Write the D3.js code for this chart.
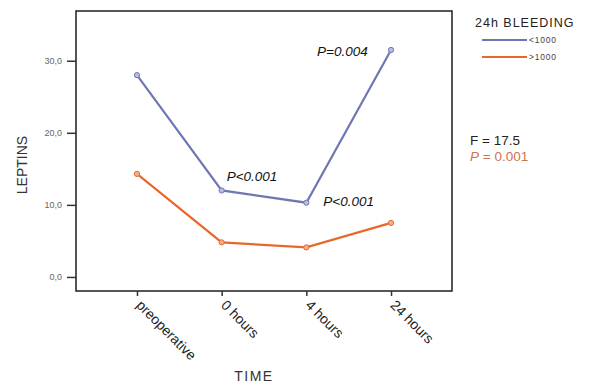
<!DOCTYPE html>
<html><head><meta charset="utf-8">
<script src="https://cdn.jsdelivr.net/npm/d3@7"></script>
<style>body{margin:0;background:#fff}svg{display:block}</style>
</head><body>
<svg id="c" width="600" height="384"></svg>
<script>
const categories = ["preoperative", "0 hours", "4 hours", "24 hours"];
const lowBleeding = [28.0, 12.0, 10.3, 31.5];   // <1000
const highBleeding = [14.3, 4.8, 4.1, 7.5];     // >1000
const yTicks = [0, 10, 20, 30];
const yTickLabels = ["0,0", "10,0", "20,0", "30,0"];
const seriesNames = ["<1000", ">1000"];
const annotations = [
  {text: "P<0.001", cat: "0 hours", value: 12.0},
  {text: "P<0.001", cat: "4 hours", value: 10.3},
  {text: "P=0.004", cat: "24 hours", value: 31.5}
];

const svg = d3.select("#c");
const L = 76, R = 452, T = 11, B = 291;
const x = d3.scalePoint().domain(categories).range([L, R]).padding(0.72);
const y = d3.scaleLinear().domain([-1.95, 36.9]).range([B, T]);
const colors = ["#6e77b1", "#e8682c"];
const fills = ["#b9bde0", "#f4b08c"];
const FONT = "Arial, 'Liberation Sans', sans-serif";

// frame
svg.append("rect").attr("x", L).attr("y", T).attr("width", R - L).attr("height", B - T)
  .attr("fill", "none").attr("stroke", "#2b2b2b").attr("stroke-width", 1.6);

// y axis
const yAxis = d3.axisLeft(y).tickValues(yTicks).tickSize(9)
  .tickFormat((d, i) => yTickLabels[i]);
const gy = svg.append("g").attr("transform", `translate(${L},0)`).call(yAxis);
gy.select(".domain").remove();
gy.selectAll(".tick line").attr("stroke", "#333").attr("stroke-width", 1.5);
gy.selectAll(".tick text").attr("font-family", FONT)
  .attr("font-size", 9).attr("fill", "#666").attr("x", -14);

// x axis
const xAxis = d3.axisBottom(x).tickSize(5);
const gx = svg.append("g").attr("transform", `translate(0,${B})`).call(xAxis);
gx.select(".domain").remove();
gx.selectAll(".tick line").attr("stroke", "#333").attr("stroke-width", 1.5);
gx.selectAll(".tick text").attr("font-family", FONT)
  .attr("font-size", 14).attr("fill", "#222")
  .attr("text-anchor", "start").attr("dy", 0).attr("y", 0)
  .attr("transform", "translate(-2,15) rotate(45)");

// axis titles
svg.append("text").attr("transform", "translate(27,165) rotate(-90)")
  .attr("text-anchor", "middle").attr("font-family", FONT)
  .attr("font-size", 14).attr("fill", "#333").text("LEPTINS");
svg.append("text").attr("x", 254).attr("y", 381).attr("text-anchor", "middle")
  .attr("font-family", FONT).attr("letter-spacing", 1.5)
  .attr("font-size", 14).attr("fill", "#333").text("TIME");

// lines
const line = d3.line().x((d, i) => x(categories[i])).y(d => y(d));
[lowBleeding, highBleeding].forEach((s, k) => {
  svg.append("path").datum(s).attr("d", line).attr("fill", "none")
    .attr("stroke", colors[k]).attr("stroke-width", 2.2);
  svg.selectAll(null).data(s).enter().append("circle")
    .attr("cx", (d, i) => x(categories[i])).attr("cy", d => y(d)).attr("r", 2.6)
    .attr("fill", fills[k]).attr("stroke", colors[k]).attr("stroke-width", 1);
});

// annotations
const offs = {"0 hours": [5, -9], "4 hours": [17, 3], "24 hours": [-74, 6]};
annotations.forEach(a => {
  const o = offs[a.cat];
  svg.append("text").attr("x", x(a.cat) + o[0]).attr("y", y(a.value) + o[1])
    .attr("font-family", FONT).attr("font-style", "italic")
    .attr("font-size", 13.5).attr("fill", "#111").text(a.text);
});

// legend
svg.append("text").attr("x", 475).attr("y", 27)
  .attr("font-family", FONT).attr("letter-spacing", 1)
  .attr("font-size", 12.5).attr("fill", "#222").text("24h BLEEDING");
seriesNames.forEach((n, k) => {
  const yy = 40 + k * 17;
  svg.append("line").attr("x1", 482).attr("x2", 527).attr("y1", yy).attr("y2", yy)
    .attr("stroke", colors[k]).attr("stroke-width", 2.2);
  svg.append("text").attr("x", 529).attr("y", yy + 3)
    .attr("font-family", FONT).attr("letter-spacing", 0.8)
    .attr("font-size", 8.5).attr("fill", "#444").text(n);
});

// stats
svg.append("text").attr("x", 470).attr("y", 145)
  .attr("font-family", FONT)
  .attr("font-size", 13.5).attr("fill", "#222").text("F = 17.5");
const p = svg.append("text").attr("x", 470).attr("y", 161)
  .attr("font-family", FONT)
  .attr("font-size", 13.5).attr("fill", "#d0734d");
p.append("tspan").attr("font-style", "italic").text("P");
p.append("tspan").text(" = 0.001");
</script>
</body></html>
